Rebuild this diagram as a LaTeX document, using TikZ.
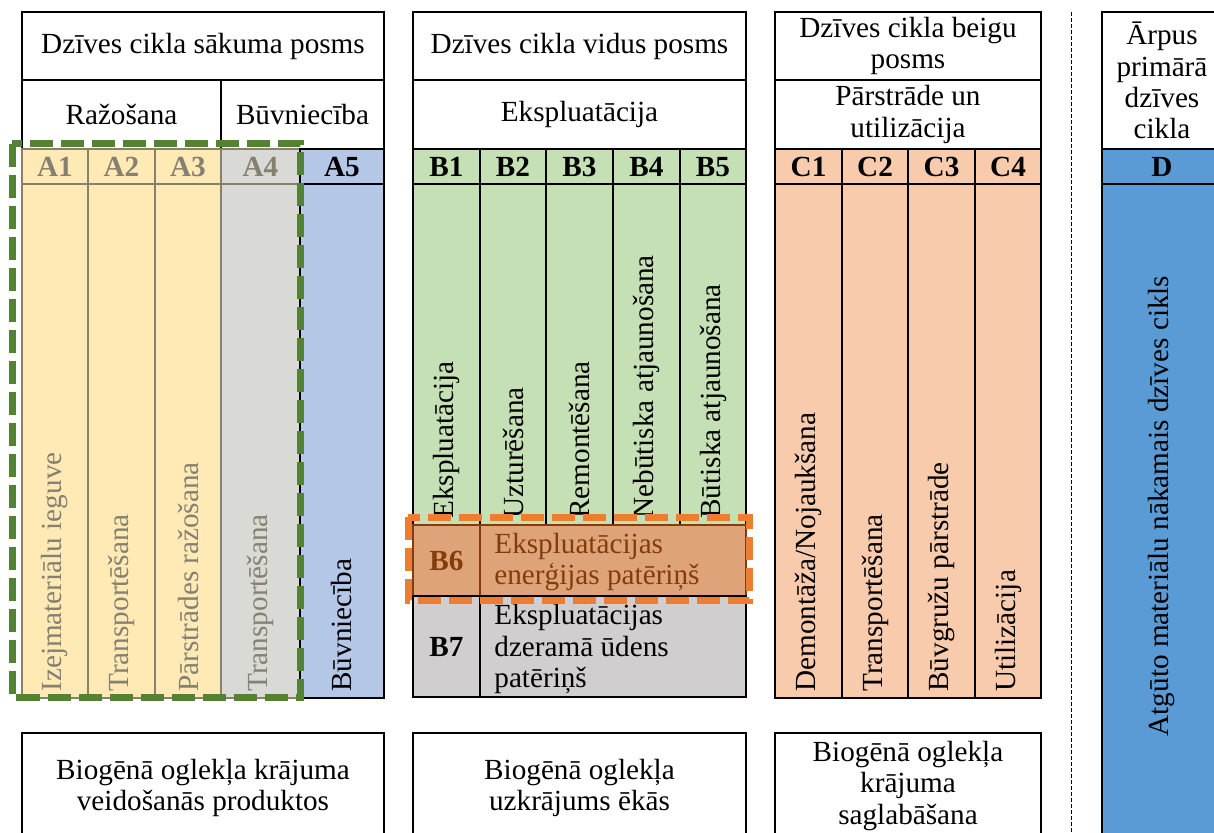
\documentclass[tikz,border=0pt]{standalone}
\usepackage{fontspec}
\setmainfont{Liberation Serif}
\usetikzlibrary{positioning}
\definecolor{razo}{HTML}{FFEAB6}
\definecolor{linegrey}{HTML}{86806C}
\definecolor{textgrey}{HTML}{85806F}
\definecolor{agrey}{HTML}{D9DAD6}
\definecolor{ablue}{HTML}{B4C7E7}
\definecolor{bgreen}{HTML}{C5E0B4}
\definecolor{bsix}{HTML}{DFA37A}
\definecolor{bbrown}{HTML}{843C0C}
\definecolor{bseven}{HTML}{D0CECE}
\definecolor{corange}{HTML}{F8CBAD}
\definecolor{dblue}{HTML}{5B9BD5}
\definecolor{dashgreen}{HTML}{548235}
\definecolor{dashorange}{HTML}{ED7D31}
\begin{document}
\begin{tikzpicture}[x=0.5pt,y=-0.5pt,
		font=\fontsize{14.6}{15.6}\selectfont,
		box/.style={draw=black,line width=1pt},
		greybox/.style={draw=linegrey,line width=1pt},
		code/.style={font=\fontsize{14.6}{15.6}\selectfont\bfseries,text height=9.6pt,text depth=0pt},
		upright/.style={rotate=90,anchor=west,inner sep=0pt},
		frame/.style={line width=3.5pt,dash pattern=on 11.5pt off 4pt}]
	\useasboundingbox (0,0) rectangle (1214,832);
	\clip (0,0) rectangle (1214,832);

	% headers
	\draw[box] (22,12) rectangle (384,80);
	\draw[box] (22,80) rectangle (221,149);
	\draw[box] (221,80) rectangle (384,149);
	\draw[box] (413,12) rectangle (746,80);
	\draw[box] (413,80) rectangle (746,149);
	\draw[box] (775,12) rectangle (1041,80);
	\draw[box] (775,80) rectangle (1041,149);
	\draw[box] (1102,12) rectangle (1222,149);

	\node (hA) at (203,46) {Dzīves cikla sākuma posms};
	\node (hR) at (121.5,114.5) {Ražošana};
	\node (hBv) at (302.5,114.5) {Būvniecība};
	\node (hB) at (579.5,46) {Dzīves cikla vidus posms};
	\node (hE) at (579.5,114.5) {Ekspluatācija};
	\node[align=center] (hC) at (908,46) {Dzīves cikla beigu\\posms};
	\node[align=center] (hP) at (908,114.5) {Pārstrāde un\\utilizācija};
	\node[align=center] (hD) at (1162,80.5) {Ārpus\\primārā\\dzīves\\cikla};

	% A modulis
	\foreach \xa/\xb/\lbl/\txt in {22/88/A1/Izejmateriālu ieguve,88/155/A2/Transportēšana,155/221/A3/Pārstrādes ražošana}{
			\draw[greybox,fill=razo] (\xa,149) rectangle (\xb,184);
			\draw[greybox,fill=razo] (\xa,184) rectangle (\xb,698);
			\node[code,text=textgrey] (\lbl) at ({(\xa+\xb)/2},166.5) {\lbl};
			\node[upright,text=textgrey] (\lbl t) at ({(\xa+\xb)/2},692) {\txt};
		}
	\draw[greybox,fill=agrey] (221,149) rectangle (300,184);
	\draw[greybox,fill=agrey] (221,184) rectangle (300,698);
	\node[code,text=textgrey] (A4) at (260.5,166.5) {A4};
	\node[upright,text=textgrey] (A4 t) at (260.5,692) {Transportēšana};
	\draw[box,fill=ablue] (300,149) rectangle (384,184);
	\draw[box,fill=ablue] (300,184) rectangle (384,698);
	\node[code] (A5) at (342,166.5) {A5};
	\node[upright] (A5 t) at (342,692) {Būvniecība};

	% B modulis
	\foreach \xa/\xb/\lbl/\txt in {413/480/B1/Ekspluatācija,480/546/B2/Uzturēšana,546/613/B3/Remontēšana,613/680/B4/Nebūtiska atjaunošana,680/746/B5/Būtiska atjaunošana}{
			\draw[box,fill=bgreen] (\xa,149) rectangle (\xb,184);
			\draw[box,fill=bgreen] (\xa,184) rectangle (\xb,525);
			\node[code] (\lbl) at ({(\xa+\xb)/2},166.5) {\lbl};
			\node[upright] (\lbl t) at ({(\xa+\xb)/2},519) {\txt};
		}
	\draw[draw=bbrown,line width=1pt,fill=bsix] (413,525) rectangle (480,596);
	\draw[draw=bbrown,line width=1pt,fill=bsix] (480,525) rectangle (746,596);
	\node[code,text=bbrown] (B6) at (446.5,560.5) {B6};
	\node[anchor=west,align=left,text=bbrown,inner sep=0pt] (B6 t) at (494,562) {Ekspluatācijas\\enerģijas patēriņš};
	\draw[box,fill=bseven] (413,596) rectangle (480,697);
	\draw[box,fill=bseven] (480,596) rectangle (746,697);
	\node[code] (B7) at (446.5,646.5) {B7};
	\node[anchor=west,align=left,inner sep=0pt] (B7 t) at (494,649) {Ekspluatācijas\\dzeramā ūdens\\patēriņš};

	% C modulis
	\foreach \xa/\xb/\lbl/\txt in {775/842/C1/{Demontāža/Nojaukšana},842/908/C2/Transportēšana,908/975/C3/Būvgružu pārstrāde,975/1041/C4/Utilizācija}{
			\draw[box,fill=corange] (\xa,149) rectangle (\xb,184);
			\draw[box,fill=corange] (\xa,184) rectangle (\xb,698);
			\node[code] (\lbl) at ({(\xa+\xb)/2},166.5) {\lbl};
			\node[upright] (\lbl t) at ({(\xa+\xb)/2},692) {\txt};
		}

	% D modulis
	\draw[dash pattern=on 2pt off 1pt,line width=0.5pt] (1071,12) -- (1071,840);
	\draw[box,fill=dblue] (1102,149) rectangle (1222,184);
	\draw[box,fill=dblue] (1102,184) rectangle (1222,850);
	\node[code] (D) at (1162,166.5) {D};
	\node[rotate=90] (D t) at (1162,506) {Atgūto materiālu nākamais dzīves cikls};

	% biogenais oglekli
	\draw[box] (22,733) rectangle (384,845);
	\draw[box] (413,733) rectangle (746,845);
	\draw[box] (775,733) rectangle (1041,845);
	\node[align=center] (gA) at (203,788) {Biogēnā oglekļa krājuma\\veidošanās produktos};
	\node[align=center] (gB) at (579.5,788) {Biogēnā oglekļa\\uzkrājums ēkās};
	\node[align=center] (gC) at (908,786) {Biogēnā oglekļa\\krājuma\\saglabāšana};

	% ietvari
	\draw[frame,draw=dashgreen] (12,143.5) rectangle (300.5,697);
	\draw[frame,draw=dashorange] (408,517) rectangle (749,600.5);
\end{tikzpicture}
\end{document}
